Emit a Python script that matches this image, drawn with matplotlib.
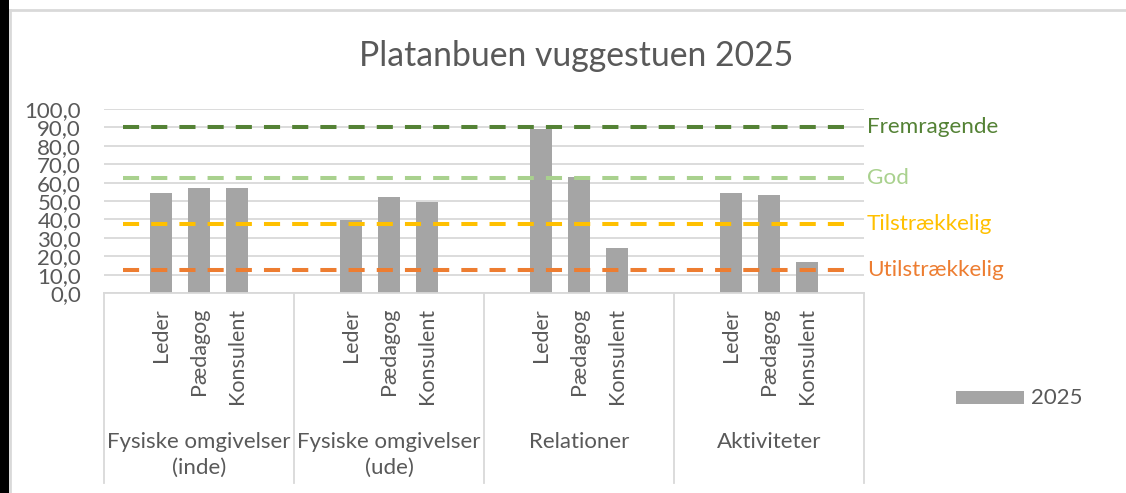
import matplotlib
matplotlib.use("Agg")
import matplotlib.pyplot as plt
from matplotlib.patches import Rectangle
from matplotlib.lines import Line2D
import matplotlib.transforms as mtransforms

plt.rcParams['font.family'] = ['Lato', 'DejaVu Sans']

# ---- data ----
title = "Platanbuen vuggestuen 2025"
groups = ["Fysiske omgivelser\n(inde)", "Fysiske omgivelser\n(ude)", "Relationer", "Aktiviteter"]
roles = ["Leder", "Pædagog", "Konsulent"]
values_inde = [54.4, 57.3, 57.3]
values_ude = [39.7, 52.0, 49.5]
values_relationer = [89.0, 62.8, 24.4]
values_aktiviteter = [54.4, 53.3, 16.8]
series_name = "2025"
threshold_names = ["Fremragende", "God", "Tilstrækkelig", "Utilstrækkelig"]
threshold_values = [90, 62.5, 37.5, 12.5]
threshold_colors = ["#548235", "#A9D18E", "#FFC000", "#ED7D31"]
yticks = [0, 10, 20, 30, 40, 50, 60, 70, 80, 90, 100]

all_values = [values_inde, values_ude, values_relationer, values_aktiviteter]

TEXT = "#595959"
GRID = "#D9D9D9"
BAR = "#A5A5A5"

W, H = 1126, 493
fig = plt.figure(figsize=(W / 100, H / 100), dpi=100)
fig.patch.set_facecolor("white")

# chart frame (left black strip + light border)
fig.add_artist(Rectangle((0, 0), 8.5 / W, 1, transform=fig.transFigure, color="black", lw=0))
fig.add_artist(Line2D([10 / W, 10 / W], [0, 1 - 10 / H], transform=fig.transFigure, color=GRID, lw=2))
fig.add_artist(Line2D([10 / W, 1], [1 - 10 / H, 1 - 10 / H], transform=fig.transFigure, color=GRID, lw=2))

ax_l, ax_r = 104 / W, 864 / W
ax_b, ax_t = (H - 293) / H, (H - 109) / H
ax = fig.add_axes([ax_l, ax_b, ax_r - ax_l, ax_t - ax_b])

slots_per_group = len(roles) + 2
n_slots = slots_per_group * len(groups)

xs, hs, labels = [], [], []
for g, vals in enumerate(all_values):
    for r, v in enumerate(vals):
        xs.append(g * slots_per_group + 1 + r)
        hs.append(v)
        labels.append(roles[r])

ax.bar(xs, hs, width=0.56, color=BAR, zorder=2, label=series_name)

for name, val, col in zip(threshold_names, threshold_values, threshold_colors):
    ax.plot([0, n_slots - 1], [val, val], color=col, lw=2.9, dashes=(4, 3),
            solid_capstyle="butt", dash_capstyle="butt", zorder=3)
    ax.text(1.0 + 3 / 760, val, name, transform=mtransforms.blended_transform_factory(ax.transAxes, ax.transData),
            color=col, fontsize=16.2, va="center", ha="left")

ax.set_xlim(-0.5, n_slots - 0.5)
ax.set_ylim(0, 100)
ax.set_yticks(yticks)
ax.set_yticklabels([f"{t:.1f}".replace(".", ",") for t in yticks], color=TEXT, fontsize=16)
ax.yaxis.grid(True, color=GRID, lw=1.3, zorder=0)
ax.set_axisbelow(True)
ax.tick_params(axis="y", length=0, pad=16.5)
ax.tick_params(axis="x", length=0)
ax.set_xticks([])
for s in ["left", "right", "top"]:
    ax.spines[s].set_visible(False)
ax.spines["bottom"].set_color(GRID)
ax.spines["bottom"].set_linewidth(1.3)

trans = mtransforms.blended_transform_factory(ax.transData, ax.transAxes)
px = 1 / (293 - 109)  # one pixel in axes-fraction units (vertical)

for x, lab in zip(xs, labels):
    ax.text(x, -15 * px, lab, transform=trans, rotation=90, ha="center", va="top",
            color=TEXT, fontsize=15.5)

for g, name in enumerate(groups):
    cx = g * slots_per_group + (slots_per_group - 1) / 2
    ax.text(cx, -(432 - 293) * px, name, transform=trans, ha="center", va="top",
            color=TEXT, fontsize=16, linespacing=1.35)

for g in range(len(groups) + 1):
    bx = g * slots_per_group - 0.5
    ax.plot([bx, bx], [0, -(483 - 293) * px], transform=trans, color=GRID, lw=1.3, clip_on=False)

# legend
fig.add_artist(Rectangle((956 / W, 1 - 404 / H), 68 / W, 13 / H, transform=fig.transFigure, color=BAR, lw=0))
fig.text(1031 / W, 1 - 398 / H, series_name, color=TEXT, fontsize=16, va="center", ha="left")

fig.text(576 / W, 1 - 66 / H, title, color=TEXT, fontsize=24.3, ha="center", va="baseline")

fig.savefig("out.png", dpi=100)
